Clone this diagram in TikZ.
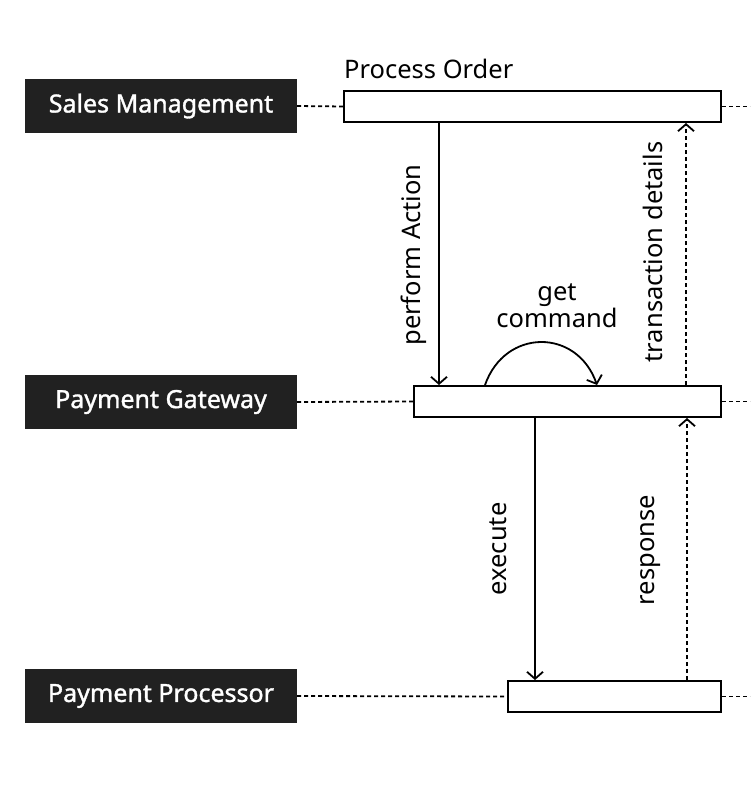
\documentclass[tikz,border=0pt]{standalone}
\usepackage{fontspec}
\setmainfont{Noto Sans}
\newfontfamily\actorfont[FakeBold=1.4]{Noto Sans}
\usetikzlibrary{arrows.meta,positioning}

\begin{document}
\begin{tikzpicture}[
    x=1pt, y=-1pt,
    >={Straight Barb[length=7pt,width=16pt]},
    font=\fontsize{25.5}{30}\selectfont,
    actor/.style={
        fill=black!87,
        text=white,
        font=\actorfont\fontsize{25}{30}\selectfont,
        minimum width=272pt,
        minimum height=54pt,
        inner sep=0pt
    },
    activity/.style={
        draw,
        line width=2pt,
        fill=white,
        minimum height=31pt,
        inner sep=0pt
    },
    lifeline/.style={line width=1.8pt, dash pattern=on 4pt off 3pt},
    msg/.style={line width=1.8pt, ->},
    reply/.style={line width=1.8pt, ->, dash pattern=on 4pt off 3pt},
    msglabel/.style={rotate=90, inner sep=0pt}
]

\useasboundingbox (0,0) rectangle (750,800);

% ---------------------------------
% Actors
% ---------------------------------
\node[actor] (sales) at (161,106) {Sales Management};
\node[actor] (gateway) at (161,402) {Payment Gateway};
\node[actor] (processor) at (161,696) {Payment Processor};

% ---------------------------------
% Activities
% ---------------------------------
\node[activity, minimum width=377pt] (order) at (532.5,106.5) {};
\node[activity, minimum width=307pt] (gwact) at (567.5,401.5) {};
\node[activity, minimum width=213pt] (ppact) at (614.5,696.5) {};

\node[anchor=west, inner sep=0pt] (orderlabel) at (344,69) {Process Order};

% ---------------------------------
% Lifelines
% ---------------------------------
\coordinate (salesend) at (750,106.5);
\coordinate (gatewayend) at (750,401.5);
\coordinate (processorend) at (750,696.5);

\draw[lifeline] (sales.east) -- (order.west);
\draw[lifeline] (order.east) -- (salesend);
\draw[lifeline] (gateway.east) -- (gwact.west);
\draw[lifeline] (gwact.east) -- (gatewayend);
\draw[lifeline] (processor.east) -- (ppact.west);
\draw[lifeline] (ppact.east) -- (processorend);

% ---------------------------------
% Messages
% ---------------------------------
\draw[msg] ([xshift=96pt]order.south west) -- ([xshift=26pt]gwact.north west);
\node[msglabel] (actionlabel) at (414,255) {perform Action};

\draw[reply] ([xshift=-36pt]gwact.north east) -- ([xshift=-36pt]order.south east);
\node[msglabel] (detailslabel) at (653,252) {transaction details};

\draw[msg] ([xshift=72pt]gwact.north west)
    .. controls +(20,-57) and +(-20,-57) .. ([xshift=184pt]gwact.north west);
\node[align=center, inner sep=0pt, font=\fontsize{25.5}{27}\selectfont] (commandlabel) at (557,306) {get\\command};

\draw[msg] ([xshift=122pt]gwact.south west) -- ([xshift=28pt]ppact.north west);
\node[msglabel] (executelabel) at (498,549) {execute};

\draw[reply] ([xshift=-35pt]ppact.north east) -- ([xshift=-35pt]gwact.south east);
\node[msglabel] (responselabel) at (651,550) {response};

\end{tikzpicture}
\end{document}
